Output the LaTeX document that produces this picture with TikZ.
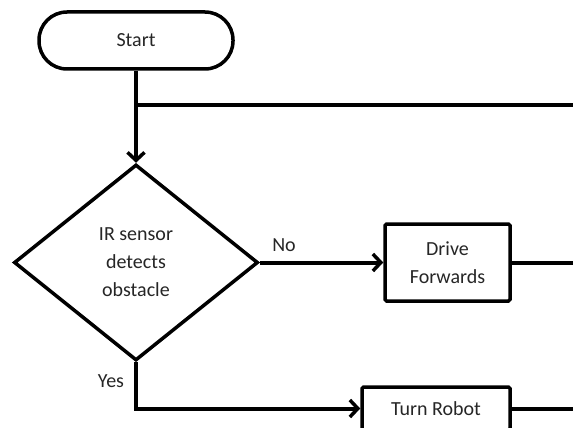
\documentclass[tikz,border=0pt]{standalone}
\usepackage{fontspec}
\setmainfont{Carlito}
\usetikzlibrary{arrows.meta,shapes.geometric}
\begin{document}
\begin{tikzpicture}[x=1pt,y=-1pt,
  every node/.style={font=\fontsize{20}{28}\selectfont, text=black!85},
  shape line/.style={draw, line width=3.5pt},
  terminal/.style={shape line, rectangle, rounded corners=28pt,
    minimum width=194pt, minimum height=57pt, inner sep=0pt},
  decision/.style={shape line, diamond, minimum width=244pt,
    minimum height=196pt, inner sep=0pt, align=center},
  process/.style={shape line, rectangle, rounded corners=1.5pt,
    inner sep=0pt, align=center},
  flow/.style={line width=4pt},
  arrowflow/.style={flow, -{Straight Barb[length=8pt,width=17pt,line width=3.5pt]}},
  tag/.style={inner sep=0pt}
]
\useasboundingbox (0,0) rectangle (573,428);
\fill[white] (0,0) rectangle (573,428);
\clip (0,0) rectangle (573,428);

% shapes
\node[terminal] (start) at (136,40.5) {Start};
\node[decision] (dec) at (136,262.5) {IR sensor\\detects\\obstacle};
\node[process, minimum width=125pt, minimum height=77pt] (drive) at (447.5,262.5) {Drive\\Forwards};
\node[process, minimum width=148pt, minimum height=43pt] (turn) at (436,408.5) {Turn Robot};

% branch labels
\node[tag] (no) at (284,245) {No};
\node[tag] (yes) at (111,381) {Yes};

% loop-back line and free ends at the right edge
\coordinate (join) at (136,105);
\coordinate (loopend) at (573,105);
\coordinate (driveend) at (573,262.5);
\coordinate (turnend) at (573,408.5);

% connectors
\draw[arrowflow] (start.south) -- (dec.north);
\draw[flow] (join) -- (loopend);
\draw[arrowflow] (dec.east) -- (drive.west);
\draw[flow] (drive.east) -- (driveend);
\draw[arrowflow] (dec.south) |- (turn.west);
\draw[flow] (turn.east) -- (turnend);
\end{tikzpicture}
\end{document}
